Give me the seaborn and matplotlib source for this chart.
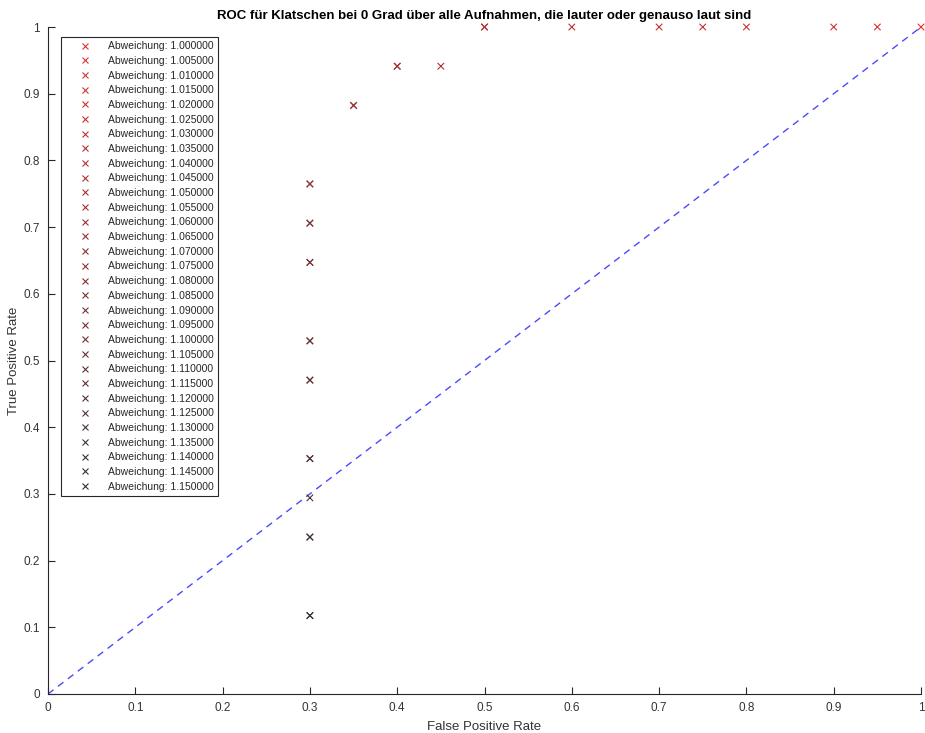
import matplotlib
matplotlib.use("Agg")
import matplotlib.pyplot as plt
import seaborn as sns
import pandas as pd
import numpy as np
from matplotlib.colors import to_hex

deviations = [1.000 + 0.005 * i for i in range(31)]
fpr = [1.0, 0.95, 0.9, 0.8, 0.75, 0.7, 0.6, 0.5, 0.5, 0.45,
       0.4, 0.4, 0.35, 0.35, 0.3, 0.3, 0.3, 0.3, 0.3, 0.3,
       0.3, 0.3, 0.3, 0.3, 0.3, 0.3, 0.3, 0.3, 0.3, 0.3, 0.3]
tpr = [1.0, 1.0, 1.0, 1.0, 1.0, 1.0, 1.0, 1.0, 1.0, 0.9412,
       0.9412, 0.9412, 0.8824, 0.8824, 0.7647, 0.7647, 0.7059, 0.7059, 0.6471, 0.6471,
       0.5294, 0.5294, 0.4706, 0.4706, 0.3529, 0.3529, 0.2941, 0.2353, 0.2353, 0.1176, 0.1176]
labels = ["Abweichung: %.6f" % d for d in deviations]
x_ticks = [0, 0.1, 0.2, 0.3, 0.4, 0.5, 0.6, 0.7, 0.8, 0.9, 1]
x_tick_labels = ["0", "0.1", "0.2", "0.3", "0.4", "0.5", "0.6", "0.7", "0.8", "0.9", "1"]
title = "ROC für Klatschen bei 0 Grad über alle Aufnahmen, die lauter oder genauso laut sind"

sns.set_style("white")
plt.rcParams["font.family"] = ["Liberation Sans", "DejaVu Sans"]

n = len(deviations)
start = np.array([0.88, 0.2, 0.2])
end = np.array([0.2, 0.2, 0.2])
palette = [to_hex(start + (end - start) * i / (n - 1)) for i in range(n)]

df = pd.DataFrame({"fpr": fpr, "tpr": tpr, "label": labels})

fig = plt.figure(figsize=(9.25, 7.33), dpi=100)
W = 873
ax = fig.add_axes([48 / 925, 1 - 694 / 733, W / 925, 667 / 733])

sns.lineplot(x=[0, 1], y=[0, 1], ax=ax, color="#4a4aff", linestyle="--",
             linewidth=1.0, legend=False)
ax.lines[0].set_dashes((5, 4))
sns.scatterplot(data=df, x="fpr", y="tpr", hue="label", hue_order=labels,
                palette=palette, marker="x", s=22, linewidth=0.8, ax=ax,
                clip_on=False, zorder=3)

ax.set_xlim(0, 1)
ax.set_ylim(0, 1)
ax.set_xticks(x_ticks)
ax.set_xticklabels(x_tick_labels)
ax.set_yticks(x_ticks)
ax.set_yticklabels(x_tick_labels)
ax.tick_params(direction="in", length=5, width=0.8, colors="#262626",
               labelsize=8.5, pad=6, bottom=True, left=True)
ax.tick_params(axis="both", labelcolor="#333333")
for s in ["top", "right"]:
    ax.spines[s].set_visible(False)
for s in ["left", "bottom"]:
    ax.spines[s].set_color("#262626")
    ax.spines[s].set_linewidth(0.8)

ax.set_xlabel("False Positive Rate", fontsize=9.5, color="#333333", labelpad=5)
ax.set_ylabel("True Positive Rate", fontsize=9.5, color="#333333", labelpad=2)
ax.set_title(title, fontsize=9.5, fontweight="bold", color="#000000", pad=6)

handles, lbls = ax.get_legend_handles_labels()
leg = ax.legend(handles, lbls, loc="upper left", bbox_to_anchor=(13 / W, 1 - 10 / 667),
                borderaxespad=0, fontsize=7.5, frameon=True, fancybox=False,
                framealpha=1, edgecolor="#262626", labelspacing=0.45,
                handletextpad=0.3, handlelength=3.8, borderpad=0.4)
leg.get_frame().set_linewidth(0.8)

fig.savefig("out.png", dpi=100)
